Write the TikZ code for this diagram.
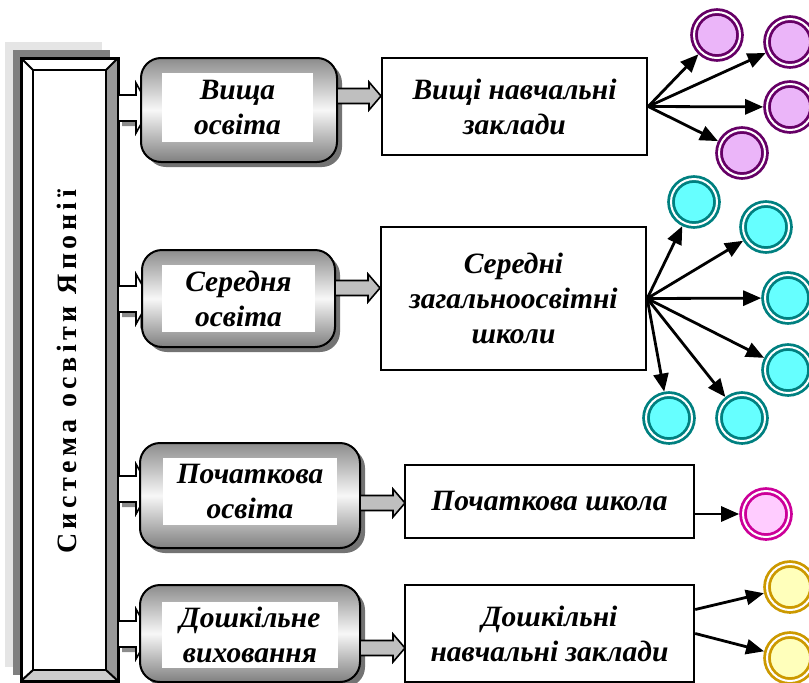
\documentclass[tikz,border=0pt]{standalone}
\usepackage{fontspec}
\setmainfont{Liberation Serif}
\usetikzlibrary{arrows.meta,calc}
\definecolor{purpfill}{HTML}{EBB5F9}
\definecolor{purpring}{HTML}{660066}
\definecolor{cyanfill}{HTML}{66FFFF}
\definecolor{cyanring}{HTML}{008080}
\definecolor{pinkfill}{HTML}{FFCCFF}
\definecolor{pinkring}{HTML}{CC0099}
\definecolor{yelfill}{HTML}{FFFFBB}
\definecolor{yelring}{HTML}{CC9900}
\newcommand\warrowshape[1]{%
  \fill[black!45] (122,#1-8) -- (140,#1-8) -- (140,#1-20) -- (154,#1+5) -- (140,#1+30) -- (140,#1+18) -- (122,#1+18) -- cycle;
  \draw[line width=1.6pt,fill=white] (118,#1-13) -- (136,#1-13) -- (136,#1-25) -- (150,#1) -- (136,#1+25) -- (136,#1+13) -- (118,#1+13) -- cycle;}
\newcommand\garrowshape[3]{%
  \draw[line width=1.6pt,fill=black!25] (#1,#3-7.5) -- (#2-12,#3-7.5) -- (#2-12,#3-14) -- (#2,#3) -- (#2-12,#3+14) -- (#2-12,#3+7.5) -- (#1,#3+7.5) -- cycle;}
\begin{document}
\begin{tikzpicture}[x=1pt,y=-1pt,
  lbl/.style={font=\fontsize{29.5}{35}\selectfont\bfseries\itshape, align=center},
  rbox/.style={draw, line width=2pt, rounded corners=20pt, top color=black!45, bottom color=black!50, middle color=black!3},
  rshadow/.style={fill=black!55, rounded corners=20pt},
  wbox/.style={fill=white, inner sep=0pt, lbl},
  sbox/.style={draw, line width=2.4pt, fill=white, inner sep=0pt, lbl},
  circ/.style={circle, minimum size=46pt, inner sep=0pt, line width=2.8pt, double=white, double distance=2pt, outer sep=3.8pt},
  fan/.style={line width=2.8pt, -{Triangle[length=18pt,width=15pt]}}]
\useasboundingbox (0,0) rectangle (809,683);
% left frame with shadows
\fill[black!10] (5,42) rectangle (102,667);
\fill[black!50] (13,50) rectangle (110,675);
\fill[white] (21,58) rectangle (118,681);
\fill[black!40] (118,58) -- (106,70) -- (106,670) -- (118,681) -- cycle;
\fill[black!20] (21,681) -- (33,670) -- (106,670) -- (118,681) -- cycle;
\draw[line width=3pt] (21,58) rectangle (118,681);
\draw[line width=2pt] (33,70) rectangle (106,670);
\draw[line width=2pt] (21,58)--(33,70) (118,58)--(106,70) (21,681)--(33,670) (118,681)--(106,670);
\node[rotate=90, font=\fontsize{28}{33}\selectfont\bfseries\addfontfeatures{LetterSpace=16}] (sys) at (67,372) {Система освіти Японії};
% white block arrows from frame
\warrowshape{108}
\warrowshape{299}
\warrowshape{489}
\warrowshape{634}
% rounded boxes
\fill[rshadow] (146,63) rectangle (342,167);
\draw[rbox] (141,58) rectangle (337,162);
\node[wbox, minimum width=151pt, minimum height=69pt] (r1) at (237.5,107.5) {Вища\\освіта};
\fill[rshadow] (147,255) rectangle (340,352);
\draw[rbox] (142,250) rectangle (335,347);
\node[wbox, minimum width=153pt, minimum height=67pt] (r2) at (238.5,298.5) {Середня\\освіта};
\fill[rshadow] (145,448) rectangle (365,553);
\draw[rbox] (140,443) rectangle (360,548);
\node[wbox, minimum width=174pt, minimum height=67pt] (r3) at (250,491.5) {Початкова\\освіта};
\fill[rshadow] (145,590) rectangle (365,687);
\draw[rbox] (140,585) rectangle (360,682);
\node[wbox, minimum width=176pt, minimum height=66pt] (r4) at (250,635) {Дошкільне\\виховання};
% gray block arrows
\garrowshape{337}{381}{96}
\garrowshape{335}{380}{288}
\garrowshape{360}{405}{503}
\garrowshape{360}{405}{648}
% right boxes
\node[sbox, minimum width=265pt, minimum height=97pt] (b1) at (514.5,106.5) {Вищі навчальні\\заклади};
\node[sbox, minimum width=265pt, minimum height=143pt] (b2) at (513.5,298.5) {Середні\\загальноосвітні\\школи};
\node[sbox, minimum width=289pt, minimum height=73pt] (b3) at (549.5,501.5) {Початкова школа};
\node[sbox, minimum width=289pt, minimum height=97pt] (b4) at (549.5,633.5) {Дошкільні\\навчальні заклади};
% circles
\node[circ, draw=purpring, fill=purpfill] (p1) at (717,35) {};
\node[circ, draw=purpring, fill=purpfill] (p2) at (790,42) {};
\node[circ, draw=purpring, fill=purpfill] (p3) at (790,107) {};
\node[circ, draw=purpring, fill=purpfill] (p4) at (742,153) {};
\node[circ, draw=cyanring, fill=cyanfill] (c1) at (694,202) {};
\node[circ, draw=cyanring, fill=cyanfill] (c2) at (766,227) {};
\node[circ, draw=cyanring, fill=cyanfill] (c3) at (788,298) {};
\node[circ, draw=cyanring, fill=cyanfill] (c4) at (788,370) {};
\node[circ, draw=cyanring, fill=cyanfill] (c5) at (669,418) {};
\node[circ, draw=cyanring, fill=cyanfill] (c6) at (742,418) {};
\node[circ, draw=pinkring, fill=pinkfill] (k1) at (766,514) {};
\node[circ, draw=yelring, fill=yelfill] (y1) at (790,587) {};
\node[circ, draw=yelring, fill=yelfill] (y2) at (790,658) {};
% fan arrows
\coordinate (o1) at (b1.east);
\coordinate (o2) at (b2.east);
\coordinate (o3) at (b3.east |- k1);
\coordinate (o4) at ($(b4.east)+(0,-24)$);
\coordinate (o5) at (b4.east);
\foreach \t in {p1,p2,p3,p4} \draw[fan] (o1) -- (\t);
\foreach \t in {c1,c2,c3,c4,c5,c6} \draw[fan] (o2) -- (\t);
\draw[fan] (o3) -- (k1);
\draw[fan] (o4) -- (y1);
\draw[fan] (o5) -- (y2);
\end{tikzpicture}
\end{document}
